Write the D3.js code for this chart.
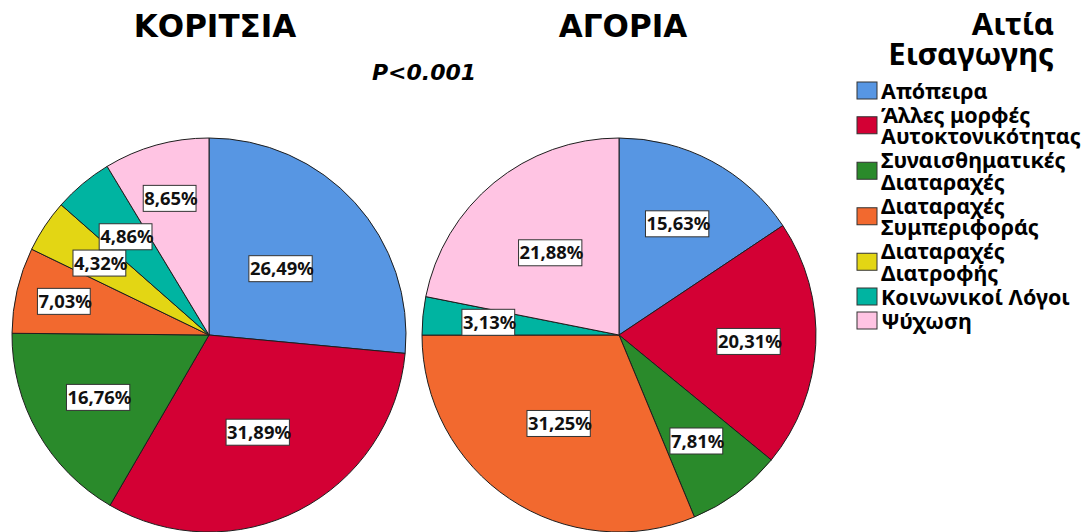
<!DOCTYPE html>
<html><head><meta charset="utf-8">
<script src="https://cdn.jsdelivr.net/npm/d3@7"></script>
<style>body{margin:0;background:#fff} svg{display:block}</style>
</head><body><svg id="c" width="1087" height="532"></svg>
<script>
// ---- data ----
const categories = ["Απόπειρα", "Άλλες μορφές Αυτοκτονικότητας", "Συναισθηματικές Διαταραχές", "Διαταραχές Συμπεριφοράς", "Διαταραχές Διατροφής", "Κοινωνικοί Λόγοι", "Ψύχωση"];
const legendLines = [["Απόπειρα"], ["Άλλες μορφές", "Αυτοκτονικότητας"], ["Συναισθηματικές", "Διαταραχές"], ["Διαταραχές", "Συμπεριφοράς"], ["Διαταραχές", "Διατροφής"], ["Κοινωνικοί Λόγοι"], ["Ψύχωση"]];
const girls = [26.49, 31.89, 16.76, 7.03, 4.32, 4.86, 8.65];
const boys = [15.63, 20.31, 7.81, 31.25, 0, 3.13, 21.88];
const groupTitles = ["ΚΟΡΙΤΣΙΑ", "ΑΓΟΡΙΑ"];
const legendTitle = ["Αιτία", "Εισαγωγης"];
const pValueText = "P<0.001";

// ---- style / layout ----
const colors = ["#5796E3", "#D30034", "#2A8A2B", "#F2692F", "#E3D614", "#00B4A1", "#FFC4E3"];
const R = 197;
const pieLayout = [
  {cx: 209, cy: 335, titleX: 215, labelR: [0.50, 0.555, 0.64, 0.75, 0.66, 0.65, 0.72]},
  {cx: 619, cy: 335, titleX: 623, labelR: [0.64, 0.665, 0.67, 0.54, 0.60, 0.66, 0.54]}
];
const seriesList = [girls, boys];

const svg = d3.select("#c");
const fmt = v => v.toFixed(2).replace(".", ",") + "%";
const pie = d3.pie().sort(null).value(d => d);
const arc = d3.arc().innerRadius(0).outerRadius(R);

seriesList.forEach((vals, i) => {
  const L = pieLayout[i];
  const g = svg.append("g").attr("transform", `translate(${L.cx},${L.cy})`);
  const arcs = pie(vals).map((a, k) => Object.assign(a, {k}));
  const shown = arcs.filter(a => a.data > 0);
  g.selectAll("path.slice").data(shown).join("path")
    .attr("class", "slice")
    .attr("d", arc)
    .attr("fill", a => colors[a.k])
    .attr("stroke", "#1e1e1e")
    .attr("stroke-width", 1);
  const lab = g.selectAll("g.lab").data(shown).join("g")
    .attr("class", "lab")
    .attr("transform", a => {
      const r = L.labelR[a.k] * R;
      const c = d3.arc().innerRadius(r).outerRadius(r).centroid(a);
      return `translate(${c[0]},${c[1]})`;
    });
  lab.append("rect");
  lab.append("text")
    .attr("text-anchor", "middle")
    .attr("dy", "0.36em")
    .attr("font-family", "Noto Sans")
    .attr("font-weight", "bold")
    .attr("font-size", 18.4)
    .attr("fill", "#111")
    .text(a => fmt(a.data));
  lab.each(function() {
    const t = d3.select(this).select("text").node().getBBox();
    d3.select(this).select("rect")
      .attr("x", t.x - 1).attr("y", -13)
      .attr("width", t.width - 1).attr("height", 26)
      .attr("fill", "#fff").attr("stroke", "#333").attr("stroke-width", 1);
  });
  svg.append("text")
    .attr("x", L.titleX).attr("y", 37)
    .attr("text-anchor", "middle")
    .attr("font-family", "DejaVu Sans").attr("font-weight", "bold")
    .attr("font-size", 31).attr("fill", "#000")
    .text(groupTitles[i]);
});

svg.append("text")
  .attr("x", 424).attr("y", 80)
  .attr("text-anchor", "middle")
  .attr("font-family", "DejaVu Sans").attr("font-weight", "bold").attr("font-style", "italic")
  .attr("font-size", 22).attr("fill", "#000")
  .text(pValueText);

// legend
const lg = svg.append("g");
legendTitle.forEach((t, j) => {
  lg.append("text")
    .attr("x", 1054).attr("y", 35 + j * 30)
    .attr("text-anchor", "end")
    .attr("font-family", "Noto Sans").attr("font-weight", "bold")
    .attr("font-size", 31).attr("fill", "#000")
    .text(t);
});
const lineH = 21.5, gap = 2.5;
let yc = 91;
categories.forEach((cat, k) => {
  const lines = legendLines[k];
  const mid = yc + (lines.length - 1) * lineH / 2;
  lg.append("rect")
    .attr("x", 857).attr("y", mid - 9)
    .attr("width", 20).attr("height", 17)
    .attr("fill", colors[k]).attr("stroke", "#333").attr("stroke-width", 1);
  lines.forEach((ln, j) => {
    lg.append("text")
      .attr("x", 881).attr("y", yc + j * lineH + 7.5)
      .attr("font-family", "Noto Sans").attr("font-weight", "bold")
      .attr("font-size", 21.5).attr("fill", "#000")
      .text(ln);
  });
  yc += lines.length * lineH + gap;
});
</script></body></html>
